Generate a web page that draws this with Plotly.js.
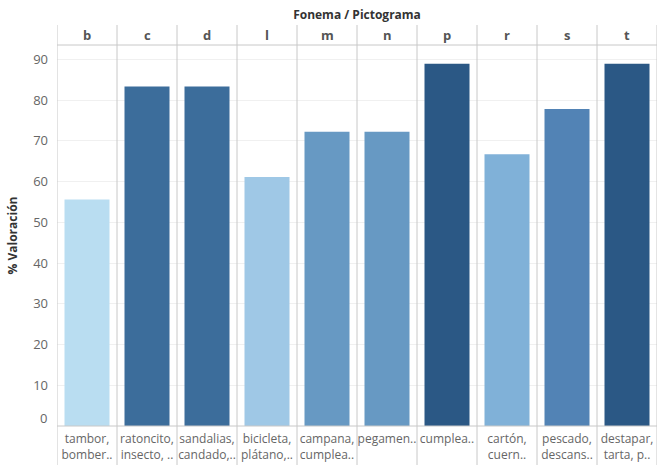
<!DOCTYPE html>
<html>
<head>
<meta charset="utf-8">
<script src="https://cdn.plot.ly/plotly-3.0.1.min.js"></script>
<style>html,body{margin:0;padding:0;background:#fff;}#chart{width:662px;height:471px;}</style>
</head>
<body>
<div id="chart"></div>
<script>
// Data
var categories = ['b','c','d','l','m','n','p','r','s','t'];
var valoracion = [55.6, 83.3, 83.3, 61.1, 72.2, 72.2, 88.9, 66.7, 77.8, 88.9];
var pictogramaLabels = [
  'tambor,<br>bomber..',
  'ratoncito,<br>insecto, ..',
  'sandalias,<br>candado,..',
  'bicicleta,<br>plátano,..',
  'campana,<br>cumplea..',
  'pegamen..',
  'cumplea..',
  'cartón,<br>cuern..',
  'pescado,<br>descans..',
  'destapar,<br>tarta, p..'
];
var yTicks = [10,20,30,40,50,60,70,80,90];
var yZeroLabel = '0';

// Styles
var barColors = ['#b9ddf1','#3c6d9b','#3c6d9b','#9fc8e6','#6799c3','#6799c3','#2b5885','#80b1d8','#5283b5','#2b5885'];
var FONT = 'Open Sans, Noto Sans, sans-serif';
var sep = '#c8c8c8';

var W = 662, H = 471, mL = 57, mR = 5, mT = 45, mB = 45;
var plotH = H - mT - mB;
function py(pixY){ return (H - mB - pixY) / plotH; }

var idx = categories.map(function(c,i){return i;});

var trace = {
  type: 'bar',
  x: idx,
  y: valoracion,
  marker: {color: barColors, line: {width: 0}},
  hoverinfo: 'y',
  width: 0.75
};

var shapes = [];
for (var i = 0; i <= categories.length; i++) {
  shapes.push({type:'line', xref:'x', yref:'paper', x0:i-0.5, x1:i-0.5, y0:py(465), y1:py(25),
    line:{color:sep, width:1}, layer:'above'});
}
shapes.push({type:'line', xref:'paper', yref:'paper', x0:0, x1:1, y0:1, y1:1, line:{color:sep,width:1}});
shapes.push({type:'line', xref:'paper', yref:'paper', x0:0, x1:1, y0:0, y1:0, line:{color:sep,width:1}});

var annotations = categories.map(function(c,i){
  return {xref:'x', yref:'paper', x:i, y:py(35), text:'<b>'+c+'</b>', showarrow:false,
    xanchor:'center', yanchor:'middle', font:{family:FONT, size:13, color:'#555'}};
});
// zero label, nudged up inside the pane like the original
annotations.push({xref:'paper', yref:'y', x:0, y:0, xshift:-8, yshift:8, text:yZeroLabel, showarrow:false,
  xanchor:'right', yanchor:'middle', font:{family:FONT, size:13, color:'#666'}});

var layout = {
  width: W, height: H,
  margin: {l:mL, r:mR, t:mT, b:mB, pad:0},
  paper_bgcolor: '#fff', plot_bgcolor: '#fff',
  showlegend: false,
  title: {text:'<b>Fonema / Pictograma</b>', x:(mL + (W-mL-mR)/2)/W, xanchor:'center', y:1-15/H, yanchor:'middle',
    font:{family:FONT, size:12, color:'#333'}},
  xaxis: {
    range:[-0.5, categories.length-0.5],
    tickvals: idx, ticktext: pictogramaLabels,
    showgrid:false, zeroline:false, showline:false, ticks:'',
    ticklabelstandoff: 4,
    tickfont:{family:FONT, size:12, color:'#666'},
    fixedrange:true
  },
  yaxis: {
    range:[0, 93.5],
    tickvals: yTicks,
    showgrid:true, gridcolor:'#f0f0f0', gridwidth:1,
    zeroline:false, showline:false, ticks:'',
    ticklabelstandoff: 8,
    tickfont:{family:FONT, size:13, color:'#666'},
    title:{text:'<b>% Valoración</b>', standoff:12, font:{family:FONT, size:12, color:'#333'}},
    fixedrange:true
  },
  shapes: shapes,
  annotations: annotations
};

Plotly.newPlot('chart', [trace], layout, {displayModeBar:false, staticPlot:true});
</script>
</body>
</html>
